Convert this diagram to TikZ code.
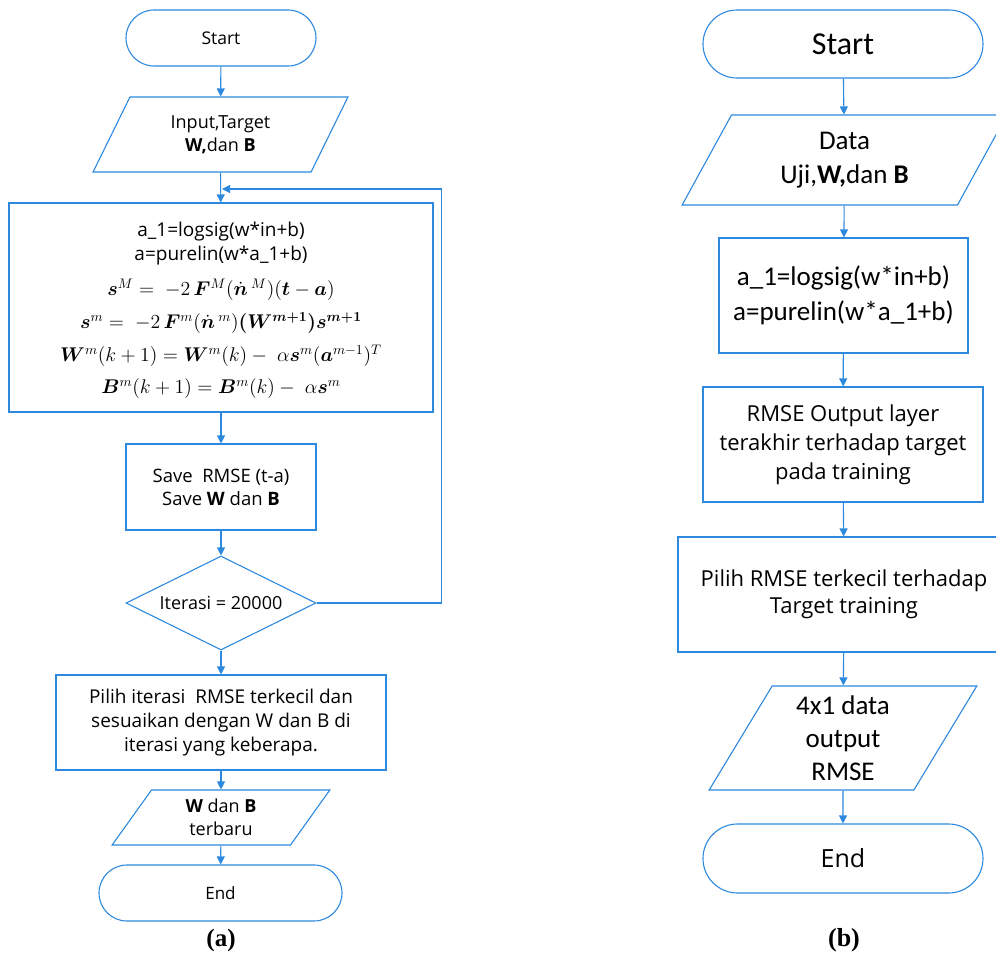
\documentclass[tikz,border=0pt]{standalone}
\usepackage{graphicx}
\usepackage{amsmath,amssymb,bm}
\usepackage[no-math]{fontspec}
\newfontfamily\segfont{Open Sans}
\newfontfamily\califont{Carlito}
\newfontfamily\capfont{Liberation Serif}
\usetikzlibrary{shapes.geometric,arrows.meta}
\definecolor{fblue}{RGB}{45,137,222}
\newcommand{\fs}[2]{\fontsize{#1}{#2}\selectfont}
\newcommand{\bigmath}[1]{\scalebox{1.38}{$#1$}}
\tikzset{
  base/.style={draw=fblue, line width=1.1pt, inner sep=0pt, align=center, text=black},
  termbox/.style={base, rectangle},
  procbox/.style={base, rectangle},
  iobox/.style={base, trapezium, trapezium stretches=true},
  decbox/.style={base, diamond, aspect=2},
  flow/.style={draw=fblue, line width=1.1pt, -{Triangle[length=8pt,width=8pt]}},
  plain/.style={inner sep=0pt, align=center, text=black},
  mathline/.style={plain, font=\fs{14}{17}},
}
\begin{document}
\begin{tikzpicture}[x=1pt,y=-1pt]
\useasboundingbox (0,0) rectangle (996,953);
\clip (0,0) rectangle (996,953);
% ---------- (a) ----------
\node[termbox, rounded corners=28pt, minimum width=190pt, minimum height=56pt, font=\segfont\fs{17.5}{21}] (s1) at (221,38) {Start};
\node[iobox, trapezium left angle=62, trapezium right angle=118, minimum width=255pt, minimum height=75pt, font=\segfont\fs{18}{23}] (in1) at (220.5,134.5) {Input,Target\\\textbf{W,}dan \textbf{B}};
\node[procbox, minimum width=424pt, minimum height=209pt] (upd) at (221,307.5) {};
\node[plain, font=\segfont\fs{19}{23}] (u1) at (221,232) {a\_1=logsig(w*in+b)};
\node[plain, font=\segfont\fs{19}{23}] (u2) at (221,256) {a=purelin(w*a\_1+b)};
\node[mathline] (u3) at (221,290) {\bigmath{\boldsymbol{s}^{M} =\; -2\,\boldsymbol{F}^{M}(\dot{\boldsymbol{n}}\,{}^{M})(\boldsymbol{t}-\boldsymbol{a})}};
\node[mathline] (u4) at (221,323) {\bigmath{\boldsymbol{s}^{m} =\; -2\,\boldsymbol{F}^{m}(\dot{\boldsymbol{n}}\,{}^{m})\boldsymbol{(W^{m+1})s^{m+1}}}};
\node[mathline] (u5) at (221,356) {\bigmath{\boldsymbol{W}^{m}(k+1) = \boldsymbol{W}^{m}(k) -\; \alpha\boldsymbol{s}^{m}(\boldsymbol{a}^{m-1})^{T}}};
\node[mathline] (u6) at (221,389) {\bigmath{\boldsymbol{B}^{m}(k+1) = \boldsymbol{B}^{m}(k) -\; \alpha\boldsymbol{s}^{m}}};
\node[procbox, minimum width=190pt, minimum height=86pt, font=\segfont\fs{18.5}{23}] (sv) at (221,487) {Save\ \ RMSE (t-a)\\Save \textbf{W} dan \textbf{B}};
\node[decbox, minimum width=190pt, minimum height=94pt, font=\segfont\fs{18}{22}] (dec) at (221,603) {Iterasi = 20000};
\node[procbox, minimum width=330pt, minimum height=95pt, font=\segfont\fs{19}{24}] (pil) at (221,722.5) {Pilih iterasi\ \ RMSE terkecil dan\\sesuaikan dengan W dan B di\\iterasi yang keberapa.};
\node[iobox, trapezium left angle=61.4, trapezium right angle=118.6, minimum width=218pt, minimum height=55pt, font=\segfont\fs{18}{23}] (wb) at (221,817.5) {\textbf{W} dan \textbf{B}\\terbaru};
\node[termbox, rounded corners=28pt, minimum width=243pt, minimum height=56pt, font=\segfont\fs{17}{21}] (e1) at (220.5,893) {End};
\node[plain, font=\capfont\bfseries\fs{25}{28}] (capa) at (221,940) {(a)};
\coordinate (fbin) at (222,189);
\draw[flow] (s1) -- (in1);
\draw[flow] (in1) -- (upd);
\draw[flow] (upd) -- (sv);
\draw[flow] (sv) -- (dec);
\draw[flow] (dec) -- (pil);
\draw[flow] (pil) -- (wb);
\draw[flow] (wb) -- (e1);
\draw[flow] (dec.east) -- ++(125,0) |- (fbin);
% ---------- (b) ----------
\node[termbox, rounded corners=34pt, minimum width=280pt, minimum height=68pt, font=\califont\fs{32}{36}] (s2) at (843,44) {Start};
\node[iobox, trapezium left angle=63.4, trapezium right angle=116.6, minimum width=325pt, minimum height=90pt, font=\califont\fs{27}{34}] (dat) at (844.5,160) {Data\\Uji,\textbf{W,}dan \textbf{B}};
\node[procbox, minimum width=249pt, minimum height=115pt, font=\califont\fs{27}{35}] (c2) at (843.5,295.5) {a\_1=logsig(w*in+b)\\a=purelin(w*a\_1+b)};
\node[procbox, minimum width=280pt, minimum height=115pt, font=\segfont\fs{22}{29}] (rm) at (843,444.5) {RMSE Output layer\\terakhir terhadap target\\pada training};
\node[procbox, minimum width=332pt, minimum height=115pt, font=\segfont\fs{22}{27}] (p2) at (844,594.5) {Pilih RMSE terkecil terhadap\\Target training};
\node[iobox, trapezium left angle=63.9, trapezium right angle=116.1, minimum width=268pt, minimum height=104pt, font=\califont\fs{27}{33}] (out) at (843,738) {4x1 data\\output\\RMSE};
\node[termbox, rounded corners=34.5pt, minimum width=280pt, minimum height=69pt, font=\segfont\fs{25}{30}] (e2) at (843,858.5) {End};
\node[plain, font=\capfont\bfseries\fs{26}{28}] (capb) at (844,940) {(b)};
\draw[flow] (s2) -- (dat);
\draw[flow] (dat) -- (c2);
\draw[flow] (c2) -- (rm);
\draw[flow] (rm) -- (p2);
\draw[flow] (p2) -- (out);
\draw[flow] (out) -- (e2);
\end{tikzpicture}
\end{document}
